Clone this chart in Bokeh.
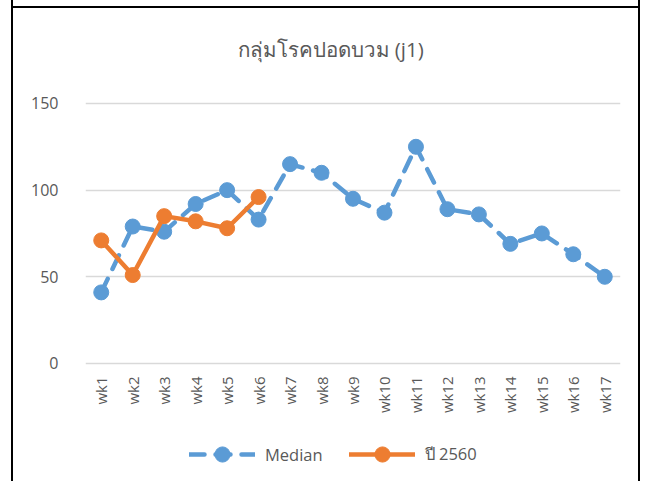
from math import pi
from bokeh.plotting import figure
from bokeh.models import Range1d, Legend, LegendItem, FixedTicker, Label
from bokeh.core.properties import value
from bokeh.embed import file_html
from bokeh.resources import INLINE

weeks = ["wk%d" % i for i in range(1, 18)]
median = [41, 79, 76, 92, 100, 83, 115, 110, 95, 87, 125, 89, 86, 69, 75, 63, 50]
y2560_weeks = weeks[:6]
y2560 = [71, 51, 85, 82, 78, 96]
title_text = "กลุ่มโรคปอดบวม (j1)"
label_median = "Median"
label_2560 = "ปี 2560"

BLUE = "#5B9BD5"
ORANGE = "#ED7D31"
GRAY = "#595959"
FONT = "Open Sans"

# frame covers the whole height so title and legend (inside the frame) are not clipped
p = figure(x_range=weeks, y_range=Range1d(-68.1, 209.4), width=625, height=481,
           output_backend="svg", toolbar_location=None,
           min_border_left=72, min_border_right=18, min_border_top=0,
           min_border_bottom=0)
try:
    p.title = None
except Exception:
    p.title.text = ""
    p.title.visible = False
p.x_range.range_padding = 0
p.border_fill_color = None
p.background_fill_color = None
p.styles = {"margin-left": "13px",
            "box-shadow": "-2px 0 0 0 #000, 2px 0 0 0 #000",
            "background": "linear-gradient(#000, #000) 0 6px / 100% 2px no-repeat"}

title_label = Label(x=4.83, y=181.7, text=title_text, text_align="left",
                    text_baseline="middle", text_font=FONT,
                    text_font_size="20.5px", text_color=GRAY)
p.add_layout(title_label)

p.outline_line_color = None
p.xgrid.grid_line_color = None
p.ygrid.grid_line_color = "#D9D9D9"
p.ygrid.grid_line_width = 1.5
p.yaxis.ticker = FixedTicker(ticks=[0, 50, 100, 150])
p.xaxis.visible = False

yax = p.yaxis[0]
yax.axis_line_color = None
yax.major_tick_line_color = None
yax.minor_tick_line_color = None
yax.major_label_text_color = GRAY
yax.major_label_text_font = FONT
yax.major_label_text_font_size = "16px"
yax.major_label_standoff = 21

# category labels under the zero line, vertical
p.text(x=weeks, y=[0] * len(weeks), text=weeks, angle=pi / 2, y_offset=13,
       text_align="right", text_baseline="middle", text_color=GRAY,
       text_font=value(FONT), text_font_size="15px")

l1 = p.line(weeks, median, line_color=BLUE, line_width=4.5, line_dash="15 11",
            line_cap="round")
s1 = p.scatter(weeks, median, size=15, fill_color=BLUE, line_color=BLUE)
l2 = p.line(y2560_weeks, y2560, line_color=ORANGE, line_width=4.5, line_cap="round",
            line_join="round")
s2 = p.scatter(y2560_weeks, y2560, size=15, fill_color=ORANGE, line_color=ORANGE)

legend = Legend(items=[LegendItem(label=label_median, renderers=[l1, s1]),
                       LegendItem(label=label_2560, renderers=[l2, s2])],
                orientation="horizontal", location=(104, 8),
                glyph_width=66, glyph_height=38, label_standoff=10, spacing=26,
                margin=0, padding=4,
                label_text_font=FONT, label_text_font_size="16.5px",
                label_text_color=GRAY, border_line_color=None,
                background_fill_alpha=0)
p.add_layout(legend, "center")

open("out.html", "w").write(file_html(p, INLINE))
